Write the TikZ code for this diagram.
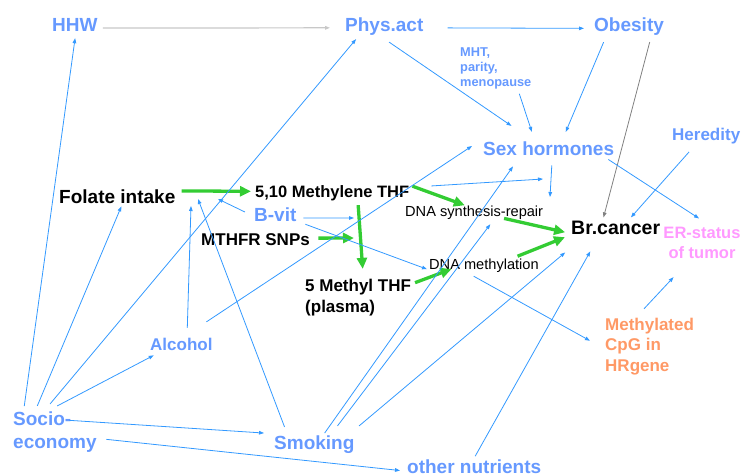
\documentclass[tikz,border=0pt]{standalone}
\usepackage{fontspec}
\setmainfont{Liberation Sans}
\usetikzlibrary{arrows.meta}
\definecolor{labblue}{RGB}{102,153,255}
\definecolor{lineblue}{RGB}{51,153,255}
\definecolor{pathgreen}{RGB}{51,204,51}
\definecolor{erpink}{RGB}{255,153,255}
\definecolor{cpgorange}{RGB}{255,153,102}
\definecolor{lightgrey}{RGB}{200,200,200}
\definecolor{darkgrey}{RGB}{128,128,128}
\begin{document}
\begin{tikzpicture}[x=1pt,y=-1pt,
	lab/.style={anchor=base west,inner sep=2pt,font=\bfseries\fontsize{19}{23}\selectfont},
	mid/.style={font=\bfseries\fontsize{17}{21}\selectfont},
	dnalab/.style={anchor=base west,inner sep=2pt,font=\fontsize{14.6}{17}\selectfont},
	arr/.style={lineblue,line width=0.8pt,-{Triangle[length=5pt,width=3.6pt]}},
	greyarr/.style={lightgrey,line width=1.2pt,-{Triangle[length=5pt,width=3.6pt]}},
	grn/.style={pathgreen,line width=3.3pt,-{Triangle[length=11pt,width=10pt]}}]
			\useasboundingbox (0,0) rectangle (742,476);
			
			% multi-line labels sit on the baseline of their last line
			\node[lab,text=labblue] (HHW) at (50,32) {HHW};
			\node[lab,text=labblue] (Phys) at (343,32) {Phys.act};
			\node[lab,text=labblue] (Obes) at (592,32) {Obesity};
			\node[lab,text=labblue,font=\bfseries\fontsize{12.8}{15}\selectfont,align=left] (MHT) at (458,87) {MHT,\\parity,\\menopause};
			\node[lab,text=labblue] (Sex) at (481,156) {Sex hormones};
			\node[lab,mid,text=labblue] (Hered) at (670,141) {Heredity};
			\node[lab] (Fol) at (57,204) {Folate intake};
			\node[lab,font=\bfseries\fontsize{16.5}{20}\selectfont] (MeTHF) at (253,197) {5,10 Methylene THF};
			\node[lab,text=labblue] (Bvit) at (252,221) {B-vit};
			\node[lab,mid] (SNP) at (199,245) {MTHFR SNPs};
			\node[dnalab] (Syn) at (403,216) {DNA synthesis-repair};
			\node[lab,font=\bfseries\fontsize{19.5}{23}\selectfont] (Brc) at (569,234) {Br.cancer};
			\node[lab,text=erpink,font=\bfseries\fontsize{16.5}{20.5}\selectfont,align=center,anchor=base] (ER) at (702,258.5) {ER-status\\of tumor};
			\node[dnalab] (Meth) at (427,269) {DNA methylation};
			\node[lab,mid,align=left] (Me5) at (303,312) {5 Methyl THF\\(plasma)};
			\node[lab,mid,text=labblue] (Alc) at (148,350) {Alcohol};
			\node[lab,text=cpgorange,font=\bfseries\fontsize{17}{20.7}\selectfont,align=left] (CpG) at (603,371.4) {Methylated\\CpG in\\HRgene};
			\node[lab,text=labblue,align=left] (Soc) at (11,448) {Socio-\\economy};
			\node[lab,text=labblue] (Smk) at (272,449) {Smoking};
			\node[lab,text=labblue] (Oth) at (405,473) {other nutrients};
			
			\coordinate (sexTip) at (550,197);
			\coordinate (thfTip) at (543,179);
			\coordinate (snpTip) at (354,238);
			\coordinate (bvTip) at (354,218);
			\coordinate (bvFol) at (218,199);
			\coordinate (alFol) at (191,206);
			\coordinate (smFol) at (198,199);
			
			% top row and hormones
			\draw[greyarr,shorten <=3pt,shorten >=13pt] (HHW.354) to (Phys.181);
			\draw[arr,shorten <=22pt,shorten >=8pt] (Phys.359) to (Obes.182);
			\draw[arr,shorten <=7pt,shorten >=25pt] (Phys.265) to (Sex.151);
			\draw[arr,shorten <=2pt,shorten >=8.6pt] (MHT.315) to (Sex.147);
			\draw[arr,shorten <=4.4pt,shorten >=8.8pt] (Obes.205) to (Sex.34);
			\draw[arr,darkgrey,shorten <=4pt,shorten >=1pt] (Obes.333) to (Brc.144);
			\draw[arr,shorten <=7pt,shorten >=1.3pt] (Hered.219) to (Brc.32);
			\draw[arr,shorten <=2pt,shorten >=11pt] (Sex.351) to (ER.71);
			\draw[arr,shorten <=7pt] (Sex.291) to (sexTip);
			\draw[arr,shorten <=20pt] (MeTHF.4) to (thfTip);
			
			% folate pathway
			\draw[grn,shorten <=1pt,shorten >=-6pt] (MeTHF.5) to (Syn.149);
			\draw[grn,shorten <=-12.8pt,shorten >=4pt] (Syn.348) to (Brc.187);
			\draw[grn,shorten >=4.3pt] (Meth.15) to (Brc.190);
			\draw[grn,shorten <=2pt,shorten >=-14.8pt] (Me5.14) to (Meth.191);
			\draw[grn,shorten <=4pt,shorten >=2pt] (Fol.6) to (MeTHF.179);
			\draw[grn,shorten <=2.5pt,shorten >=7.6pt] (MeTHF.339.5) to (Me5.76);
			\draw[grn,shorten <=6.4pt] (SNP.1) to (snpTip);
			\draw[arr,shorten <=4.8pt] (Bvit.351) to (bvTip);
			\draw[arr,shorten <=7.2pt] (Bvit.342.5) to (Meth.184);
			\draw[arr,shorten <=7.9pt] (Bvit.183.5) to (bvFol);
			
			% socio-economy
			\draw[arr,shorten <=3pt,shorten >=4pt] (Soc.144) to (HHW.275.5);
			\draw[arr,shorten <=3.4pt] (Soc.130) to (Fol.294);
			\draw[arr,shorten <=6.7pt,shorten >=1.3pt] (Soc.112) to (Phys.202);
			\draw[arr,shorten <=6.7pt,shorten >=6.4pt] (Soc.99) to (Alc.201);
			\draw[arr,shorten <=-29.5pt,shorten >=8pt] (Soc.12.3) to (Smk.166);
			\draw[arr,shorten <=7.7pt,shorten >=5pt] (Soc.351.4) to (Oth.184.6);
			
			% alcohol, smoking, other nutrients
			\draw[arr,shorten <=7.6pt] (Alc.56) to (alFol);
			\draw[arr,shorten <=24.7pt,shorten >=10.8pt] (Alc.62) to (Sex.north west);
			\draw[arr,shorten <=6.5pt] (Smk.158) to (smFol);
			\draw[arr,shorten >=9.8pt] (Smk.47.5) to (Sex.197);
			\draw[arr,shorten <=9pt,shorten >=3.8pt] (Smk.32) to (Syn.334.6);
			\draw[arr,shorten <=11.1pt,shorten >=24.9pt] (Smk.17.5) to (Brc.196);
			\draw[arr,shorten <=1pt,shorten >=17.2pt] (Oth.87) to (Brc.208.5);
			\draw[arr,shorten <=4.1pt,shorten >=14.9pt] (Meth.213) to (CpG.182.5);
			\draw[arr,shorten <=9.2pt,shorten >=22.3pt] (CpG.111) to (ER.234);
\end{tikzpicture}
\end{document}
